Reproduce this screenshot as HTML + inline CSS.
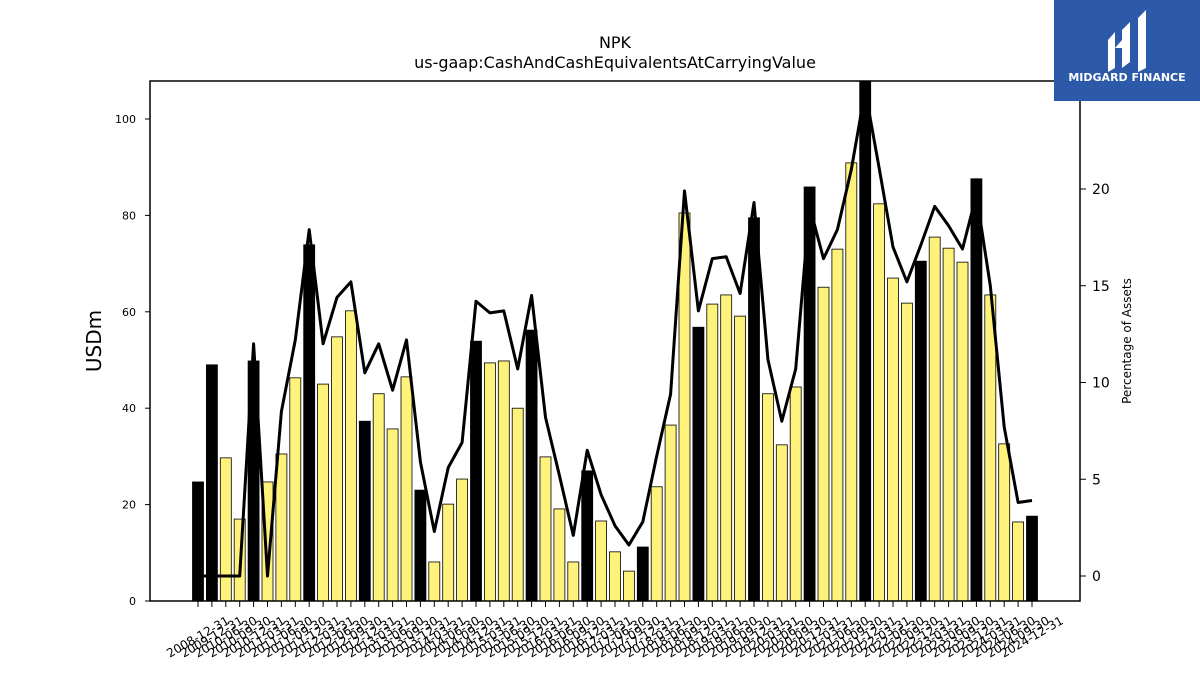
<!DOCTYPE html>
<html><head><meta charset="utf-8"><style>
body{margin:0;background:#fff;font-family:"DejaVu Sans","Liberation Sans",sans-serif}
svg text{font-family:"DejaVu Sans","Liberation Sans",sans-serif}
</style></head><body>
<svg id="c" width="1200" height="675" xmlns="http://www.w3.org/2000/svg" style="display:block">
<text x="615" y="48" font-size="16" text-anchor="middle">NPK</text>
<text x="615" y="68" font-size="16" text-anchor="middle">us-gaap:CashAndCashEquivalentsAtCarryingValue</text>
<g id="bars"></g>
<g id="line"></g>
<rect x="150" y="81" width="930" height="520" fill="none" stroke="#000" stroke-width="1.5"/>
<g id="yl"></g>
<g id="yr"></g>
<g id="xa"></g>
<text x="101" y="341" font-size="20" text-anchor="middle" transform="rotate(-90 101 341)">USDm</text>
<text x="1131" y="341" font-size="12" text-anchor="middle" transform="rotate(-90 1131 341)">Percentage of Assets</text>
<g>
<rect x="1054" y="0" width="146" height="101" fill="#2c5aa9"/>
<path d="M1108 40 L1115 32 L1115 68 L1108 72 Z M1122 30 L1130 22 L1130 62 L1122 68 Z M1138 18 L1146 10 L1146 68 L1138 72 Z M1115 48 L1122 40 L1130 48" fill="#fff"/>
<text x="1127" y="81" font-size="11" font-weight="bold" fill="#fff" text-anchor="middle">MIDGARD FINANCE</text>
</g>
</svg>
<script>
const values=[24.7,49,29.7,17,49.8,24.7,30.5,46.3,73.9,45,54.8,60.2,37.3,43,35.7,46.5,23,8.1,20.1,25.3,53.9,49.4,49.8,40,56.2,29.9,19.1,8.1,27,16.6,10.2,6.2,11.2,23.7,36.5,80.5,56.8,61.6,63.5,59.1,79.5,43,32.4,44.4,85.9,65.1,73,90.9,108,82.4,67,61.8,70.5,75.5,73.2,70.3,87.6,63.5,32.6,16.4,17.6];
const pct=[0,0,0,0,12,0,8.5,12.2,17.9,12,14.4,15.2,10.5,12,9.6,12.2,5.9,2.3,5.6,6.9,14.2,13.6,13.7,10.7,14.5,8.2,5.2,2.1,6.5,4.2,2.6,1.6,2.8,6.2,9.4,19.9,13.7,16.4,16.5,14.6,19.3,11.2,8,10.7,19.1,16.4,17.9,21,25.1,21.1,17,15.2,17.1,19.1,18.1,16.9,19.7,15,7.7,3.8,3.9];
const leftTicks=[0,20,40,60,80,100];
const rightTicks=[0,5,10,15,20];
const labels=["2008-12-31","2009-12-31"];
(function(){const q=["03-31","06-30","09-30","12-31"];for(let y=2010;y<=2024;y++)for(const d of q){if(y==2010&&d=="03-31")continue;if(labels.length<61)labels.push(y+"-"+d);}})();
const NS="http://www.w3.org/2000/svg";
const x=i=>198+i*(1032-198)/(values.length-1);
const yL=v=>601-v*4.82;
const yR=v=>576-v*19.35;
function mk(t,a,p){const e=document.createElementNS(NS,t);for(const k in a)e.setAttribute(k,a[k]);p.appendChild(e);return e;}
const bars=document.getElementById('bars');
values.forEach((v,i)=>{const black=(i===0||i===1||(i>=4&&i%4===0));
const top=Math.max(yL(v),81);
const r=mk('rect',{x:x(i)-5.5,y:top,width:11,height:601-top,fill:black?'#000':'#fff27a',stroke:'#000','stroke-width':0.8},bars);

});
const ln=mk('polyline',{points:pct.map((p,i)=>x(i)+','+Math.max(yR(p),81)).join(' '),fill:'none',stroke:'#000','stroke-width':3,'stroke-linejoin':'round'},document.getElementById('line'));


const yl=document.getElementById('yl');
leftTicks.forEach(t=>{mk('line',{x1:145,x2:150,y1:yL(t),y2:yL(t),stroke:'#000'},yl);const tx=mk('text',{x:136,y:yL(t)+4,'font-size':11,'text-anchor':'end'},yl);tx.textContent=t;

});
const yr=document.getElementById('yr');
rightTicks.forEach(t=>{mk('line',{x1:1080,x2:1086,y1:yR(t),y2:yR(t),stroke:'#000'},yr);const tx=mk('text',{x:1092,y:yR(t)+5,'font-size':14},yr);tx.textContent=t;

});
const xa=document.getElementById('xa');
labels.forEach((l,i)=>{mk('line',{x1:x(i),x2:x(i),y1:601,y2:607,stroke:'#000'},xa);const tx=mk('text',{x:x(i),y:641,'font-size':12,'text-anchor':'middle',transform:`rotate(-30 ${x(i)} 637)`},xa);tx.textContent=l;

});
</script>
</body></html>
